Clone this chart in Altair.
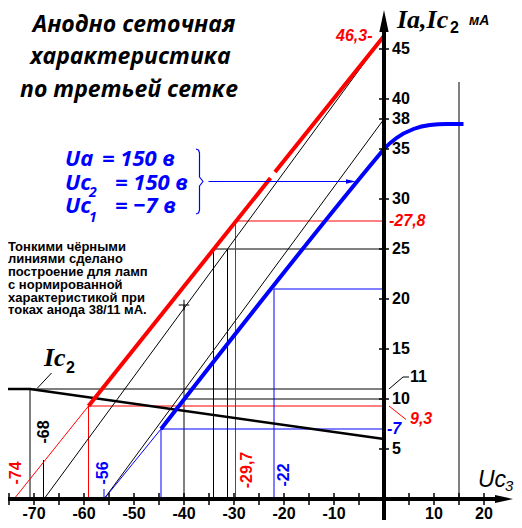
import altair as alt
import pandas as pd

# ---------------- data (Uc3 in volts, currents in mA) ----------------
red_thin_x = [-74.0, -59.1]
red_thin_y = [0.0, 9.3]
red_thick1_x = [-59.1, -22.7]
red_thick1_y = [9.3, 32.1]
red_thick2_x = [-21.8, 0.0]
red_thick2_y = [32.7, 46.3]

lineA_x = [-68.0, 0.0]
lineA_y = [0.0, 46.3]
lineB_x = [-56.0, 0.0]
lineB_y = [0.0, 38.0]

blue_thin_x = [-56.0, -44.6]
blue_thin_y = [0.0, 7.0]
blue_thick_x = [-44.6, -1.0, 0.0, 2.5, 5.9, 9.2, 12.5, 15.9]
blue_thick_y = [7.0, 34.4, 35.0, 36.1, 37.0, 37.4, 37.5, 37.5]

ic2_x = [-76.0, -70.8, 0.0]
ic2_y = [11.0, 11.0, 6.0]

# construction lines
guide_x1 = [-70.8, -70.8, -40.0, -40.0, -34.1, -31.3, -34.1, 15.0, -68.1,
            -59.1, -59.1, -29.7, -29.7, -44.6, -44.6, -22.0, -22.0, -56.0]
guide_y1 = [0.0, 11.0, 0.0, 10.0, 0.0, 0.0, 25.0, 0.0, 0.0,
            0.0, 9.3, 0.0, 27.8, 0.0, 7.0, 0.0, 21.0, 0.0]
guide_x2 = [-70.8, 0.0, -40.0, 0.0, -34.1, -31.3, 0.0, 15.0, -68.1,
            -59.1, 0.0, -29.7, 0.0, -44.6, 0.0, -22.0, 0.0, -56.0]
guide_y2 = [11.0, 11.0, 19.4, 10.0, 25.0, 25.0, 25.0, 41.7, 3.9,
            9.3, 9.3, 27.8, 27.8, 7.0, 7.0, 21.0, 21.0, 1.0]
guide_c = ["black"] * 9 + ["red"] * 4 + ["blue"] * 5

# axis ticks and labels
x_ticks = [-75, -70, -65, -60, -55, -50, -45, -40, -35, -30, -25, -20, -15, -10, -5, 5, 10, 15, 20]
x_labels = [-70, -60, -50, -40, -30, -20, -10, 10, 20]
y_ticks = [5, 10, 15, 20, 25, 30, 35, 38, 40, 45]
y_labels = ["5", "10", "15", "20", "25", "30", "35", "38", "40", "45"]
y_label_vals = [5, 10, 15, 20, 25, 30, 35, 38, 40, 45]

X_DOM = [-75.2, 26.0]
Y_DOM = [-2.1, 49.1]

X = alt.X("x:Q", scale=alt.Scale(domain=X_DOM, nice=False, zero=False), axis=None)
Y = alt.Y("y:Q", scale=alt.Scale(domain=Y_DOM, nice=False, zero=False), axis=None)


def poly(xs, ys, color, width, interp="linear"):
    df = pd.DataFrame({"x": xs, "y": ys, "o": list(range(len(xs)))})
    return alt.Chart(df).mark_line(color=color, strokeWidth=width, interpolate=interp,
                                   strokeCap="butt", strokeJoin="round").encode(
        x=X, y=Y, order="o:Q")


def segs(df, width):
    return alt.Chart(df).mark_rule(strokeWidth=width).encode(
        x=X, y=Y, x2="x2:Q", y2="y2:Q", color=alt.Color("c:N", scale=None))


def texts(df, **kw):
    return alt.Chart(df).mark_text(**kw).encode(
        x=X, y=Y, text="t:N", color=alt.Color("c:N", scale=None))


layers = []

# construction guides
layers.append(segs(pd.DataFrame({"x": guide_x1, "y": guide_y1, "x2": guide_x2,
                                 "y2": guide_y2, "c": guide_c}), 1))
layers.append(poly(lineA_x, lineA_y, "black", 1))
layers.append(poly(lineB_x, lineB_y, "black", 1))
layers.append(poly(red_thin_x, red_thin_y, "red", 1))
layers.append(poly(blue_thin_x, blue_thin_y, "blue", 1))

# leaders
layers.append(poly([-69.3, -66.5], [11.1, 12.6], "black", 1))
layers.append(poly([1.0, 3.8, 5.0], [11.0, 12.2, 12.2], "black", 1))
layers.append(poly([1.0, 4.4], [9.3, 7.95], "red", 1))

# Ic2 curve and main characteristics
layers.append(poly(ic2_x, ic2_y, "black", 2.5))
layers.append(poly(red_thick1_x, red_thick1_y, "red", 4))
layers.append(poly(red_thick2_x, red_thick2_y, "red", 4))
layers.append(poly(blue_thick_x, blue_thick_y, "blue", 4, "monotone"))

# marker cross on line A
layers.append(alt.Chart(pd.DataFrame({"x": [-40.0], "y": [19.4]})).mark_point(
    shape="M-1,0L1,0M0,-1L0,1", size=110, filled=False, color="black",
    strokeWidth=1, opacity=1).encode(x=X, y=Y))

# brace and arrow of the blue annotation
brace_x = [-37.6, -37.1, -36.9, -36.9, -36.2, -36.9, -36.9, -37.1, -37.6]
brace_y = [35.0, 34.9, 34.6, 32.2, 31.75, 31.3, 28.9, 28.6, 28.5]
layers.append(poly(brace_x, brace_y, "blue", 1.2))
layers.append(poly([-35.1, -7.5], [31.75, 31.75], "blue", 1.2))
layers.append(alt.Chart(pd.DataFrame({"x": [-6.6], "y": [31.75]})).mark_point(
    shape="M1,0L-1,-0.45L-1,0.45Z", size=100, filled=True, color="blue",
    opacity=1).encode(x=X, y=Y))

# axes
layers.append(poly([-76.0, 23.0], [0.0, 0.0], "black", 4))
layers.append(poly([0.0, 0.0], [-2.2, 46.8], "black", 4))
layers.append(alt.Chart(pd.DataFrame({"x": [0.0], "y": [47.8]})).mark_point(
    shape="M0,-1L0.42,1L-0.42,1Z", size=484, filled=True, color="black",
    opacity=1).encode(x=X, y=Y))
layers.append(alt.Chart(pd.DataFrame({"x": [24.0], "y": [0.0]})).mark_point(
    shape="M1,0L-1,-0.45L-1,0.45Z", size=324, filled=True, color="black",
    opacity=1).encode(x=X, y=Y))

# ticks
layers.append(segs(pd.DataFrame({"x": x_ticks, "y": [-0.6] * len(x_ticks),
                                 "x2": x_ticks, "y2": [0.6] * len(x_ticks),
                                 "c": ["black"] * len(x_ticks)}), 1.5))
layers.append(segs(pd.DataFrame({"x": [-1.0] * len(y_ticks), "y": y_ticks,
                                 "x2": [1.0] * len(y_ticks), "y2": y_ticks,
                                 "c": ["black"] * len(y_ticks)}), 1.5))

TF = "Liberation Sans, Arial, sans-serif"
# tick labels
layers.append(texts(pd.DataFrame({"x": x_labels, "y": [-1.45] * len(x_labels),
                                  "t": [str(v) for v in x_labels],
                                  "c": ["black"] * len(x_labels)}),
                    font=TF, fontSize=16, fontWeight="bold", align="center", baseline="middle"))
layers.append(texts(pd.DataFrame({"x": [1.6] * len(y_labels) + [5.2], "y": y_label_vals + [12.2],
                                  "t": y_labels + ["11"],
                                  "c": ["black"] * (len(y_labels) + 1)}),
                    font=TF, fontSize=16, fontWeight="bold", align="left", baseline="middle"))
# special values
layers.append(texts(pd.DataFrame({"x": [1.0, 5.2, -9.6, 0.6], "y": [27.8, 8.0, 46.3, 7.0],
                                  "t": ["-27,8", "9,3", "46,3-", "-7"],
                                  "c": ["red", "red", "red", "blue"]}),
                    font=TF, fontSize=16, fontWeight="bold", fontStyle="italic",
                    align="left", baseline="middle"))
# rotated values at the Uc3 axis
layers.append(texts(pd.DataFrame({"x": [-73.6, -68.1, -56.2, -27.5, -20.1],
                                  "y": [2.6, 6.7, 2.6, 2.9, 2.4],
                                  "t": ["-74", "-68", "-56", "-29,7", "-22"],
                                  "c": ["red", "black", "blue", "red", "blue"]}),
                    font=TF, fontSize=16, fontWeight="bold", angle=270,
                    align="center", baseline="middle"))

# title
HF = "Open Sans, Roboto, DejaVu Sans, sans-serif"
layers.append(texts(pd.DataFrame({"x": [-50.0, -50.7, -51.0], "y": [46.67, 43.47, 40.17],
                                  "t": ["Анодно сеточная", "характеристика", "по третьей сетке"],
                                  "c": ["black"] * 3}),
                    font=HF, fontSize=23, fontWeight="bold", fontStyle="italic",
                    align="center", baseline="alphabetic"))

# blue parameter block
layers.append(texts(pd.DataFrame({"x": [-63.8, -56.4, -63.8, -53.8, -63.8, -53.8],
                                  "y": [33.3, 33.3, 30.9, 30.9, 28.57, 28.57],
                                  "t": ["Ua", "= 150 в", "Uc", "= 150 в", "Uc", "= −7 в"],
                                  "c": ["blue"] * 6}),
                    font=HF, fontSize=22, fontWeight="bold", fontStyle="italic",
                    align="left", baseline="alphabetic"))
layers.append(texts(pd.DataFrame({"x": [-59.0, -59.0], "y": [30.23, 27.73],
                                  "t": ["2", "1"], "c": ["blue", "blue"]}),
                    font=HF, fontSize=14, fontWeight="bold", fontStyle="italic",
                    align="left", baseline="alphabetic"))

# note
note_lines = ["Тонкими чёрными", "линиями сделано", "построение для ламп",
              "с нормированной", "характеристикой при", "токах анода 38/11 мА."]
layers.append(texts(pd.DataFrame({"x": [-75.2] * 6,
                                  "y": [24.83 - 1.27 * i for i in range(6)],
                                  "t": note_lines, "c": ["black"] * 6}),
                    font="Liberation Sans Narrow, Arial Narrow, sans-serif", fontSize=13,
                    fontWeight="bold", align="left", baseline="alphabetic"))

# axis titles and curve label
SF = "Liberation Serif, Times New Roman, serif"
layers.append(texts(pd.DataFrame({"x": [2.6, -68.0], "y": [47.1, 13.3],
                                  "t": ["Ia,Ic", "Ic"], "c": ["black", "black"]}),
                    font=SF, fontSize=26, fontWeight="bold", fontStyle="italic",
                    align="left", baseline="alphabetic"))
layers.append(texts(pd.DataFrame({"x": [13.2, -63.6], "y": [46.6, 12.6],
                                  "t": ["2", "2"], "c": ["black", "black"]}),
                    font=TF, fontSize=16, fontWeight="bold",
                    align="left", baseline="alphabetic"))
layers.append(texts(pd.DataFrame({"x": [17.0], "y": [47.4], "t": ["мА"], "c": ["black"]}),
                    font=TF, fontSize=14, fontStyle="italic", fontWeight="bold",
                    align="left", baseline="alphabetic"))
layers.append(texts(pd.DataFrame({"x": [18.8], "y": [1.2], "t": ["Uc"], "c": ["black"]}),
                    font=TF, fontSize=23, fontStyle="italic",
                    align="left", baseline="alphabetic"))
layers.append(texts(pd.DataFrame({"x": [24.2], "y": [0.8], "t": ["3"], "c": ["black"]}),
                    font=TF, fontSize=15, fontStyle="italic",
                    align="left", baseline="alphabetic"))

chart = alt.layer(*layers).properties(
    width=506, height=512,
    autosize=alt.AutoSizeParams(type="none"),
    padding=0,
).configure_view(stroke=None)

chart.save("out.html", embed_options={"renderer": "svg", "actions": False})
